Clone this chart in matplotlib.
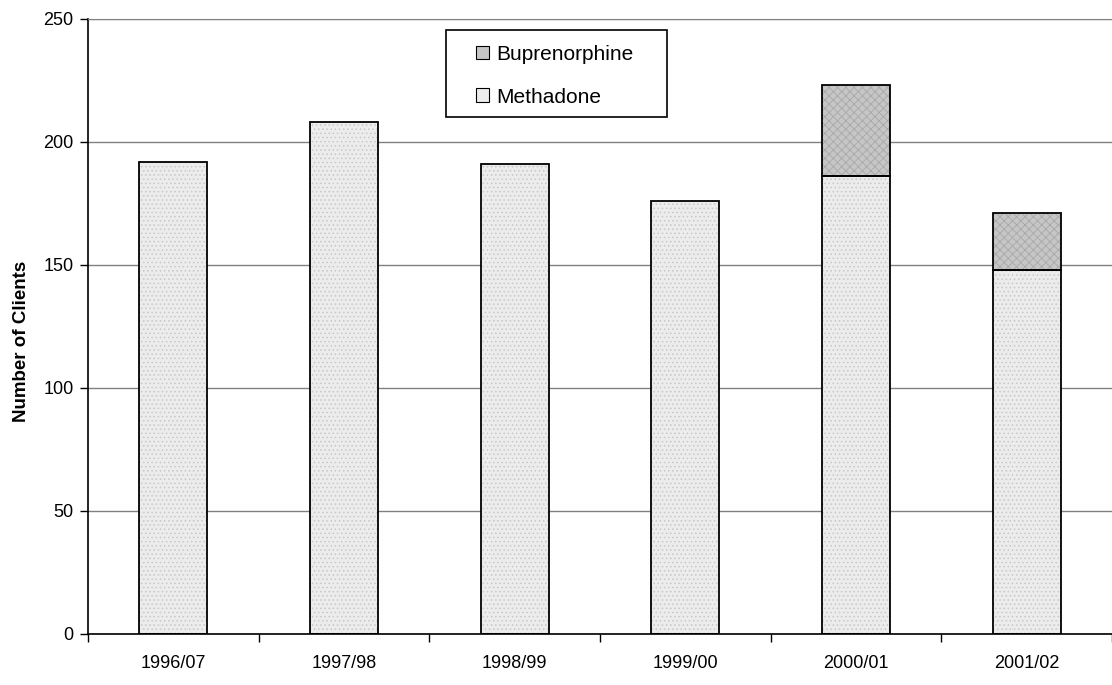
import numpy as np
import matplotlib
matplotlib.use("Agg")
from matplotlib import pyplot as plt
from matplotlib.patches import Patch, Rectangle
from matplotlib.ticker import FixedLocator

plt.rcParams['font.family'] = ['Liberation Sans', 'DejaVu Sans']
plt.rcParams['hatch.linewidth'] = 0.6

years = ['1996/07', '1997/98', '1998/99', '1999/00', '2000/01', '2001/02']
methadone = [192, 208, 191, 176, 186, 148]
buprenorphine = [0, 0, 0, 0, 37, 23]
yticks = [0, 50, 100, 150, 200, 250]

meth_color = '#ececec'
bup_color = '#c6c6c6'

fig = plt.figure(figsize=(11.12, 6.85), dpi=100)
ax = fig.add_axes([0.0791, 0.0745, 0.9209, 0.8978])

x = np.arange(len(years))
w = 0.4
bottoms = np.array(methadone)

# texture layer, then outline layer
ax.bar(x, methadone, w, color=meth_color, edgecolor='#c8c8c8', hatch='....', linewidth=0, zorder=2)
ax.bar(x, methadone, w, fill=False, edgecolor='black', linewidth=1.3, zorder=3)
bup = np.array(buprenorphine)
has = bup > 0
ax.bar(x[has], bup[has], w, bottom=bottoms[has], color=bup_color, edgecolor='#a8a8a8',
       hatch='xxxx', linewidth=0, zorder=2)
ax.bar(x[has], bup[has], w, bottom=bottoms[has], fill=False, edgecolor='black', linewidth=1.3, zorder=3)

ax.set_xlim(-0.5, len(years) - 0.5)
ax.set_ylim(0, 250)
ax.set_yticks(yticks)
ax.yaxis.grid(True, color='#808080', linewidth=1)
ax.set_axisbelow(True)

ax.set_xticks(x)
ax.set_xticklabels(years, fontsize=13)
ax.xaxis.set_minor_locator(FixedLocator(np.arange(-0.5, len(years), 1.0)))
ax.tick_params(axis='x', which='major', length=0, pad=15)
ax.tick_params(axis='x', which='minor', length=6, width=1, direction='out')
ax.tick_params(axis='y', length=6, width=1, pad=4.5, labelsize=13)

ax.spines['right'].set_visible(False)
ax.spines['top'].set_color('#808080')
ax.spines['left'].set_linewidth(1.2)
ax.spines['bottom'].set_linewidth(1.2)

ax.set_ylabel('Number of Clients', fontsize=13.5, fontweight='bold')
ax.yaxis.set_label_coords(-0.057, 0.475)

handles = [Patch(facecolor=bup_color, edgecolor='black', linewidth=0.8),
           Patch(facecolor=meth_color, edgecolor='black', linewidth=0.8)]
leg = ax.legend(handles, ['Buprenorphine', 'Methadone'], loc='upper left',
                bbox_to_anchor=(0.3785, 0.958), frameon=False, fontsize=15,
                handlelength=0.65, handleheight=0.65, handletextpad=0.35,
                labelspacing=1.15, borderpad=0, borderaxespad=0)
ax.add_patch(Rectangle((0.3496, 0.841), 0.2158, 0.141, transform=ax.transAxes,
                       facecolor='white', edgecolor='black', linewidth=1.2, zorder=4))
leg.set_zorder(5)

plt.savefig("out.png", dpi=100)
